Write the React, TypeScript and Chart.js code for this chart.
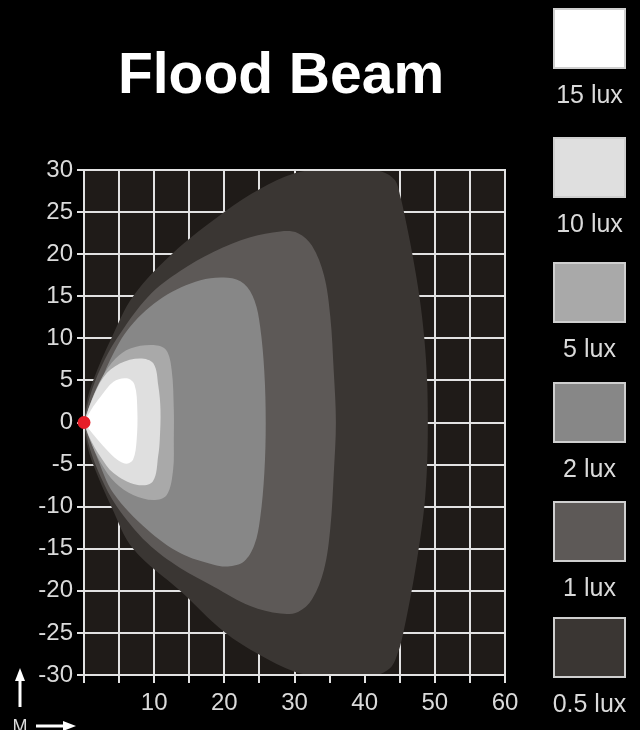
import React, { useEffect, useRef } from 'react';
import { Chart, registerables } from 'chart.js';

Chart.register(...registerables);

// ---------- text ----------
const TITLE = 'Flood Beam';
const AXIS_UNIT = 'M';
const LUX_LABELS = ['15 lux', '10 lux', '5 lux', '2 lux', '1 lux', '0.5 lux'];
const LUX_COLORS = ['#ffffff', '#dfdfdf', '#a9a9a9', '#878787', '#5d5957', '#3a3633'];

// ---------- axes ----------
const X_MIN = 0;
const X_MAX = 60;
const Y_MIN = -30;
const Y_MAX = 30;
const TICK_STEP = 5;
const X_LABELED_TICKS = [10, 20, 30, 40, 50, 60];

// ---------- iso-lux outlines (x metres forward, y metres lateral) ----------
type P = [number, number];

const LUX_15: P[] = [
  [0, 0], [1, 1.5], [2.3, 3], [4.2, 4.85], [6.1, 5.25], [7.2, 4.5], [7.6, 1.5],
  [7.5, -2.1], [7.0, -4.4], [6.0, -4.9], [4.7, -4.4], [3.2, -3.2], [1.3, -1.4], [0, 0],
];

const LUX_10: P[] = [
  [0, 0], [0.9, 2.2], [2.8, 5.4], [5.1, 7.0], [8.0, 7.6], [9.9, 7.0], [10.6, 4.3], [10.9, 1.5],
  [10.8, -2], [10.6, -3.8], [9.8, -7.0], [7.5, -7.4], [4.2, -6.0], [2.3, -4.0], [0.8, -1.8], [0, 0],
];

const LUX_5: P[] = [
  [0, 0], [1.0, 2.5], [2.6, 5.4], [4.5, 7.6], [6.6, 8.8], [9.9, 9.2], [11.7, 8.6], [12.5, 6.2], [12.8, 1.5],
  [12.8, -2], [12.7, -5.6], [11.8, -8.6], [9.9, -9.2], [7.0, -8.6], [4.5, -7.2], [2.4, -4.8], [0.9, -2.2], [0, 0],
];

const LUX_2: P[] = [
  [0, 0], [0.8, 1.6], [1.8, 3.5], [3.7, 7.4], [6.6, 11.4], [11.3, 14.9], [16.6, 16.9], [20.5, 17.2],
  [22.8, 16.5], [24.3, 14.5], [25.1, 11.4], [25.7, 6], [25.9, 0],
  [25.7, -6], [25.1, -11.4], [24.3, -14.5], [22.8, -16.5], [20.5, -17.1], [18.5, -16.9], [13.7, -15.5],
  [9.0, -12.7], [4.2, -8.4], [1.8, -4.0], [0.7, -1.5], [0, 0],
];

const LUX_1: P[] = [
  [0, 0], [0.8, 3], [2.4, 6.5], [4.7, 10], [9.2, 15], [13.7, 18], [18.5, 20.3], [23.7, 22],
  [28, 22.7], [30.5, 22.5], [32.5, 21], [34.2, 17.5], [35.1, 12.6], [35.6, 6], [35.9, 0],
  [35.6, -6], [35.1, -12.6], [34.2, -17.5], [32.5, -21], [30.5, -22.5], [28, -22.7], [23.7, -21.8],
  [18.5, -19.5], [13.7, -17.3], [9.0, -14.3], [4.7, -10], [2.4, -6.5], [0.8, -3], [0, 0],
];

const LUX_05: P[] = [
  [0, 0], [0.4, 2.5], [1.3, 5], [3.9, 10], [7, 15], [12.5, 20], [20, 25], [25, 27.7], [30, 29.6],
  [34, 30.1], [40, 30.1], [42.5, 29.8], [44.3, 28.8], [45.1, 26.8], [45.6, 25], [46.8, 20], [47.8, 15],
  [48.5, 10], [48.9, 5], [49, 0],
  [48.9, -5], [48.5, -10], [47.7, -15], [46.7, -20], [45.5, -25], [44.8, -27.2], [43.6, -29.2],
  [41, -30.1], [34, -30.1], [30, -29.6], [25, -27.6], [20, -24.9], [13.7, -20], [7, -15], [3.9, -10],
  [1.3, -5], [0.4, -2.5], [0, 0],
];

const LUX_OUTLINES: P[][] = [LUX_15, LUX_10, LUX_5, LUX_2, LUX_1, LUX_05];

const LAMP: P[] = [[0, 0]];

// ---------- style ----------
const FONT = '"Liberation Sans", Arial, Helvetica, sans-serif';
const GRID_COLOR = '#e2e2e2';
const TEXT_COLOR = '#dadada';
const PLOT_BG = '#1f1b18';
const LAMP_COLOR = '#e61e28';
const LEGEND_TOPS = [8, 137, 262, 382, 501, 617];
const LEGEND_LEFT = 553;
const LEGEND_W = 73;
const LEGEND_H = 61;

const decorPlugin = {
  id: 'decor',
  beforeDraw(chart: any) {
    const { ctx, chartArea: a, width, height } = chart;
    ctx.save();
    ctx.fillStyle = '#000000';
    ctx.fillRect(0, 0, width, height);
    ctx.fillStyle = PLOT_BG;
    ctx.fillRect(a.left, a.top, a.right - a.left, a.bottom - a.top);
    ctx.restore();
  },
  beforeDatasetDraw(chart: any, args: any) {
    if (args.index !== 0) return;
    const { ctx, chartArea: a } = chart;
    ctx.save();
    ctx.strokeStyle = GRID_COLOR;
    ctx.lineWidth = 2;
    ctx.strokeRect(a.left, a.top, a.right - a.left, a.bottom - a.top);
    ctx.restore();
  },
  afterDraw(chart: any) {
    const { ctx, chartArea: a } = chart;
    ctx.save();
    // title
    ctx.fillStyle = '#ffffff';
    ctx.font = `bold 57px ${FONT}`;
    ctx.textAlign = 'center';
    ctx.textBaseline = 'alphabetic';
    ctx.fillText(TITLE, 281, 93);

    // legend
    LUX_LABELS.forEach((label, i) => {
      const top = LEGEND_TOPS[i];
      ctx.fillStyle = LUX_COLORS[i];
      ctx.fillRect(LEGEND_LEFT, top, LEGEND_W, LEGEND_H);
      ctx.strokeStyle = '#cfcfcf';
      ctx.lineWidth = 2;
      ctx.strokeRect(LEGEND_LEFT + 1, top + 1, LEGEND_W - 2, LEGEND_H - 2);
      ctx.fillStyle = TEXT_COLOR;
      ctx.font = `25px ${FONT}`;
      ctx.textAlign = 'center';
      ctx.textBaseline = 'alphabetic';
      ctx.fillText(label, LEGEND_LEFT + LEGEND_W / 2, top + LEGEND_H + 34);
    });

    // axis direction marks (bottom-left)
    const ux = a.left - 64;
    ctx.fillStyle = '#ffffff';
    ctx.strokeStyle = '#ffffff';
    ctx.lineWidth = 3;
    ctx.beginPath();
    ctx.moveTo(ux, a.bottom + 32);
    ctx.lineTo(ux, a.bottom + 4);
    ctx.stroke();
    ctx.beginPath();
    ctx.moveTo(ux, a.bottom - 7);
    ctx.lineTo(ux - 5, a.bottom + 6);
    ctx.lineTo(ux + 5, a.bottom + 6);
    ctx.closePath();
    ctx.fill();

    const ry = a.bottom + 51;
    ctx.beginPath();
    ctx.moveTo(ux + 16, ry);
    ctx.lineTo(ux + 46, ry);
    ctx.stroke();
    ctx.beginPath();
    ctx.moveTo(ux + 56, ry);
    ctx.lineTo(ux + 43, ry - 5);
    ctx.lineTo(ux + 43, ry + 5);
    ctx.closePath();
    ctx.fill();

    ctx.fillStyle = TEXT_COLOR;
    ctx.font = `18px ${FONT}`;
    ctx.textAlign = 'center';
    ctx.textBaseline = 'top';
    ctx.fillText(AXIS_UNIT, ux, a.bottom + 43);
    ctx.restore();
  },
};

export default function App() {
  const canvasRef = useRef<HTMLCanvasElement | null>(null);

  useEffect(() => {
    document.body.style.margin = '0';
    document.body.style.background = '#000000';
    const canvas = canvasRef.current;
    if (!canvas) return;

    const shapeSets = LUX_OUTLINES.map((outline, i) => ({
      type: 'line' as const,
      label: LUX_LABELS[i],
      data: outline.map(([x, y]) => ({ x, y })),
      showLine: true,
      fill: 'shape',
      backgroundColor: LUX_COLORS[i],
      borderColor: LUX_COLORS[i],
      borderWidth: 0,
      pointRadius: 0,
      pointHoverRadius: 0,
      tension: 0.35,
    }));

    const chart = new Chart(canvas, {
      type: 'scatter',
      data: {
        datasets: [
          {
            type: 'scatter',
            label: 'lamp',
            data: LAMP.map(([x, y]) => ({ x, y })),
            pointRadius: 6.5,
            pointBackgroundColor: LAMP_COLOR,
            pointBorderWidth: 0,
            backgroundColor: LAMP_COLOR,
            clip: false,
          } as any,
          ...(shapeSets as any[]),
        ],
      },
      options: {
        responsive: false,
        animation: false,
        devicePixelRatio: 1,
        layout: { padding: { top: 170, right: 135, left: 0, bottom: 0 } },
        plugins: {
          legend: { display: false },
          title: { display: false },
          tooltip: { enabled: false },
        },
        events: [],
        scales: {
          x: {
            type: 'linear',
            min: X_MIN,
            max: X_MAX,
            afterFit: (scale: any) => { scale.height = 55; },
            grid: {
              color: GRID_COLOR,
              lineWidth: 2,
              drawTicks: true,
              tickLength: 8,
              tickColor: GRID_COLOR,
              tickWidth: 2,
            },
            border: { display: true, color: GRID_COLOR, width: 2 },
            ticks: {
              stepSize: TICK_STEP,
              autoSkip: false,
              maxRotation: 0,
              padding: 6,
              color: TEXT_COLOR,
              font: { family: FONT, size: 24 },
              callback: (v: any) => (X_LABELED_TICKS.includes(Number(v)) ? String(v) : ''),
            },
          },
          y: {
            type: 'linear',
            min: Y_MIN,
            max: Y_MAX,
            afterFit: (scale: any) => { scale.width = 84; },
            grid: {
              color: GRID_COLOR,
              lineWidth: 2,
              drawTicks: true,
              tickLength: 7,
              tickColor: GRID_COLOR,
              tickWidth: 2,
            },
            border: { display: true, color: GRID_COLOR, width: 2 },
            ticks: {
              stepSize: TICK_STEP,
              autoSkip: false,
              padding: 4,
              color: TEXT_COLOR,
              font: { family: FONT, size: 24 },
            },
          },
        },
      } as any,
      plugins: [decorPlugin],
    });

    return () => chart.destroy();
  }, []);

  return (
    <div style={{ width: 640, height: 730, background: '#000' }}>
      <canvas ref={canvasRef} width={640} height={730} style={{ display: 'block' }} />
    </div>
  );
}
